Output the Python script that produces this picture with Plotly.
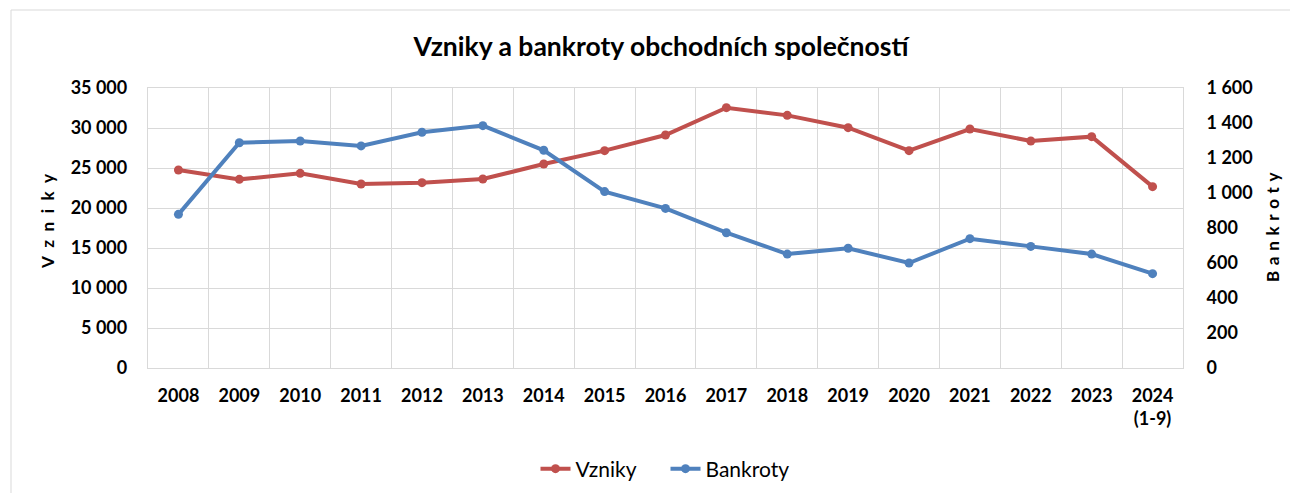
import plotly.graph_objects as go

years = ["2008", "2009", "2010", "2011", "2012", "2013", "2014", "2015", "2016",
         "2017", "2018", "2019", "2020", "2021", "2022", "2023", "2024<br>(1-9)"]
vzniky = [24750, 23580, 24330, 23000, 23170, 23620, 25500, 27170, 29120,
          32540, 31580, 30040, 27170, 29870, 28370, 28920, 22670]
bankroty = [878, 1287, 1297, 1269, 1347, 1385, 1244, 1008, 912,
            773, 651, 684, 600, 739, 695, 651, 539]

RED = "#C0504D"
BLUE = "#4F81BD"
GRID = "#d9d9d9"
FONT = "Lato"
W, H = 1290, 485
L, R, T, B = 140, 115, 80, 125
PW, PH = W - L - R, H - T - B

fig = go.Figure()
fig.add_trace(go.Scatter(x=years, y=vzniky, name="Vzniky", mode="lines+markers",
                         line=dict(color=RED, width=4), marker=dict(size=9, color=RED)))
fig.add_trace(go.Scatter(x=years, y=bankroty, name="Bankroty", mode="lines+markers",
                         yaxis="y2",
                         line=dict(color=BLUE, width=4), marker=dict(size=9, color=BLUE)))

tickfont = dict(size=18, family=FONT, color="#000000", weight="bold")

fig.update_layout(
    width=W, height=H,
    margin=dict(l=L, r=R, t=T, b=B, autoexpand=False),
    paper_bgcolor="white", plot_bgcolor="white",
    separators=", ",
    font=dict(family=FONT, color="#000000"),
    title=dict(text="<b>Vzniky a bankroty obchodních společností</b>",
               x=653 / W, xanchor="center", y=1 - 39 / H, yanchor="middle",
               font=dict(size=26.5, family=FONT, color="#000000")),
    xaxis=dict(type="category", range=[-0.5, len(years) - 0.5], tickson="boundaries",
               showgrid=True, gridcolor=GRID, gridwidth=1.3,
               showline=True, linecolor=GRID, linewidth=1.3, mirror=True,
               ticks="", ticklabelstandoff=11,
               tickfont=tickfont, tickangle=0),
    yaxis=dict(range=[0, 35000], dtick=5000, tickformat=",d", showgrid=True, gridcolor=GRID,
               gridwidth=1.3, zeroline=False,
               showline=True, linecolor=GRID, linewidth=1.3, mirror=True,
               ticks="outside", ticklen=16, tickcolor="rgba(0,0,0,0)",
               tickfont=tickfont),
    yaxis2=dict(range=[0, 1600], dtick=200, tickformat=",d", overlaying="y", side="right",
                showgrid=False, zeroline=False,
                ticks="outside", ticklen=19, tickcolor="rgba(0,0,0,0)",
                tickfont=tickfont),
    legend=dict(orientation="h", x=0.5, xanchor="center", y=(PH - (461 - T)) / PH,
                yanchor="middle", entrywidth=85, entrywidthmode="pixels",
                font=dict(size=21, family=FONT, color="#000000")),
    annotations=[
        dict(text="<b>" + "\u2002".join("Vzniky") + "</b>", textangle=-90, showarrow=False,
             xref="paper", yref="paper", x=(39 - L) / PW, y=(PH - (214 - T)) / PH,
             xanchor="center", yanchor="middle",
             font=dict(size=17, family=FONT, color="#000000")),
        dict(text="<b>" + "\u2004".join("Bankroty") + "</b>", textangle=-90, showarrow=False,
             xref="paper", yref="paper", x=(1264 - L) / PW, y=(PH - (219 - T)) / PH,
             xanchor="center", yanchor="middle",
             font=dict(size=17, family=FONT, color="#000000")),
    ],
    shapes=[dict(type="rect", xref="paper", yref="paper",
                 x0=(3 - L) / PW, x1=1 + (R + 20) / PW, y0=-(B + 20) / PH, y1=1 + (T - 2) / PH,
                 line=dict(color=GRID, width=1), fillcolor="rgba(0,0,0,0)", layer="below")],
)

fig.write_html("out.html")
